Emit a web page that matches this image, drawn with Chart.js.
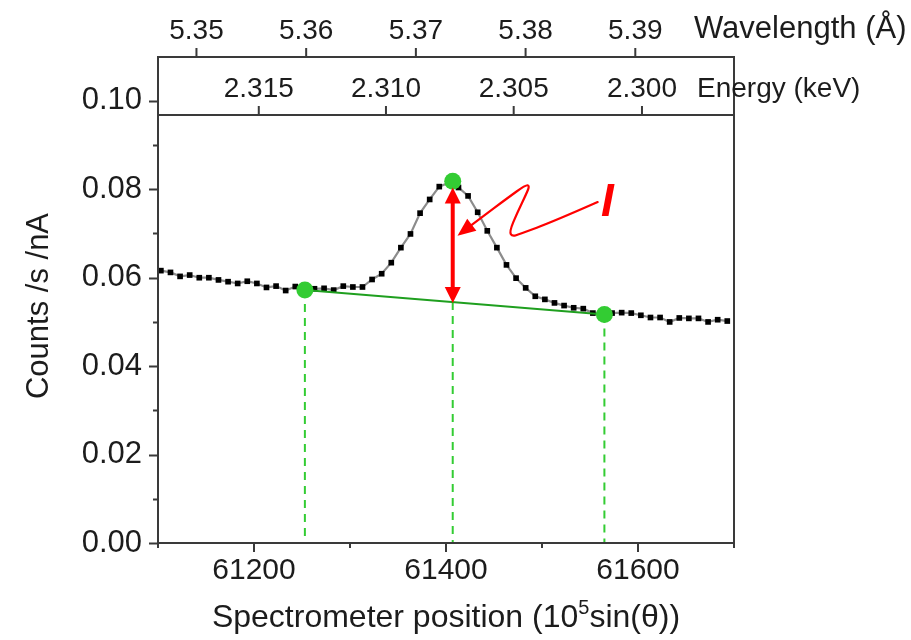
<!DOCTYPE html>
<html><head><meta charset="utf-8">
<script src="https://cdn.jsdelivr.net/npm/chart.js@4.4.1/dist/chart.umd.min.js"></script>
<style>html,body{margin:0;padding:0;background:#fff;}#wrap{width:911px;height:640px;}</style>
</head><body><div id="wrap"><canvas id="c" width="911" height="640"></canvas></div>
<script>
// ---- data ----
const positions = [61103,61113,61123,61133,61143,61153,61163,61173,61183,61193,
  61203,61213,61223,61233,61243,61253,61263,61273,61283,61293,
  61303,61313,61323,61333,61343,61353,61363,61373,61383,61393,
  61403,61413,61423,61433,61443,61453,61463,61473,61483,61493,
  61503,61513,61523,61533,61543,61553,61563,61573,61583,61593,
  61603,61613,61623,61633,61643,61653,61663,61673,61683,61693];
const counts = [0.0616,0.0612,0.0603,0.0606,0.0600,0.0600,0.0595,0.0591,0.0587,0.0592,
  0.0587,0.0578,0.0581,0.0571,0.0580,0.0573,0.0575,0.0576,0.0572,0.0581,
  0.0579,0.0579,0.0596,0.0609,0.0634,0.0668,0.0699,0.0746,0.0777,0.0806,
  0.0815,0.0804,0.0785,0.0748,0.0706,0.0668,0.0629,0.0599,0.0577,0.0558,
  0.0551,0.0543,0.0537,0.0532,0.0530,0.0520,0.0518,0.0520,0.0521,0.0520,
  0.0515,0.0510,0.0510,0.0500,0.0509,0.0508,0.0508,0.0500,0.0505,0.0502];
const markerPos = [61253, 61407, 61565];
const markerVal = [0.0572, 0.0818, 0.0517];
const baselinePos = [61253, 61565];
const baselineVal = [0.0572, 0.0517];
const dashPos = [61253, 61407, 61565];
const dashTopVal = [0.0572, 0.0545, 0.0517];
const arrowPos = 61407, arrowTopVal = 0.0804, arrowBottomVal = 0.0543;
const squigglePos = [61558, 61512, 61477, 61469, 61466, 61474, 61484, 61487, 61483, 61464, 61436, 61412];
const squiggleVal = [0.0771, 0.0727, 0.0699, 0.0693, 0.0704, 0.0746, 0.0791, 0.0808, 0.0810, 0.0780, 0.0735, 0.0695];
const labelIPos = 61568, labelIVal = 0.0769;

const xMin = 61100, xMax = 61700;
const xTicks = [61100,61200,61300,61400,61500,61600,61700];
const xLabelled = [61200,61400,61600];
const yMin = 0, yMax = 0.0968;
const yTicks = [0,0.01,0.02,0.03,0.04,0.05,0.06,0.07,0.08,0.09,0.10];
const wavelengthTicks = [5.35,5.36,5.37,5.38,5.39];
const energyTicks = [2.315,2.310,2.305,2.300];
const ANGSTROM_PER_UNIT = 8.7504e-5;   // wavelength = k * position
const HC = 12.3984;                    // keV*Angstrom

const FONT = '"Liberation Sans", Arial, Helvetica, sans-serif';
const TXT = '#1c1c1c';
const AXC = '#3a3a3a';

const framePlugin = {
  id: 'frame',
  afterDatasetsDraw(chart) {
    const {ctx, chartArea: a, scales} = chart;
    const sx = scales.x, sy = scales.y, sE = scales.xE, sW = scales.xW;
    const yW = sW.bottom;
    ctx.save();
    ctx.strokeStyle = AXC; ctx.lineWidth = 2; ctx.lineCap = 'butt';
    ctx.beginPath();
    ctx.moveTo(a.left, yW); ctx.lineTo(a.left, a.bottom);
    ctx.moveTo(a.right, yW); ctx.lineTo(a.right, a.bottom);
    ctx.moveTo(a.left - 1, a.bottom); ctx.lineTo(a.right + 1, a.bottom);
    ctx.moveTo(a.left - 1, a.top); ctx.lineTo(a.right + 1, a.top);
    ctx.moveTo(a.left - 1, yW); ctx.lineTo(a.right + 1, yW);
    yTicks.forEach((v, i) => {
      const p = Math.round(sy.getPixelForValue(v)) + 0.5;
      const len = i % 2 === 0 ? 9 : 5;
      ctx.moveTo(a.left - len, p); ctx.lineTo(a.left, p);
    });
    xTicks.forEach(v => {
      const p = sx.getPixelForValue(v);
      const len = xLabelled.includes(v) ? 9 : 5;
      ctx.moveTo(p, a.bottom); ctx.lineTo(p, a.bottom + len);
    });
    sE.ticks.forEach(t => {
      const p = sE.getPixelForValue(t.value);
      ctx.moveTo(p, a.top); ctx.lineTo(p, a.top - 9);
    });
    sW.ticks.forEach(t => {
      const p = sW.getPixelForValue(t.value);
      ctx.moveTo(p, yW); ctx.lineTo(p, yW - 9);
    });
    ctx.stroke();

    // axis titles
    ctx.fillStyle = TXT;
    ctx.font = '31px ' + FONT;
    ctx.textBaseline = 'middle';
    ctx.textAlign = 'center';
    ctx.save();
    ctx.translate(39, 306);
    ctx.rotate(-Math.PI / 2);
    ctx.fillText('Counts /s /nA', 0, 0);
    ctx.restore();

    const parts = [['Spectrometer position (10', 32, 0], ['5', 20, -13], ['sin(\u03b8))', 32, 0]];
    let total = 0;
    parts.forEach(p => { ctx.font = p[1] + 'px ' + FONT; total += ctx.measureText(p[0]).width; });
    let xx = (a.left + a.right) / 2 - total / 2;
    const base = 627;
    ctx.textAlign = 'left'; ctx.textBaseline = 'alphabetic';
    parts.forEach(p => { ctx.font = p[1] + 'px ' + FONT; ctx.fillText(p[0], xx, base + p[2]); xx += ctx.measureText(p[0]).width; });

    ctx.textBaseline = 'middle';
    ctx.font = '31px ' + FONT;
    ctx.fillText('Wavelength (\u00c5)', 694, 29);
    ctx.font = '28px ' + FONT;
    ctx.fillText('Energy (keV)', 697, 89);
    ctx.restore();
  }
};

const annotPlugin = {
  id: 'annot',
  afterDatasetsDraw(chart) {
    const {ctx, scales: {x, y}} = chart;
    ctx.save();
    ctx.fillStyle = '#ff0000'; ctx.strokeStyle = '#ff0000';
    const ax = x.getPixelForValue(arrowPos);
    const t = y.getPixelForValue(arrowTopVal), b = y.getPixelForValue(arrowBottomVal);
    const hl = 16, hw = 8;
    ctx.lineWidth = 4;
    ctx.beginPath(); ctx.moveTo(ax, t + hl - 2); ctx.lineTo(ax, b - hl + 2); ctx.stroke();
    ctx.beginPath(); ctx.moveTo(ax, t); ctx.lineTo(ax - hw, t + hl); ctx.lineTo(ax + hw, t + hl); ctx.closePath(); ctx.fill();
    ctx.beginPath(); ctx.moveTo(ax, b); ctx.lineTo(ax - hw, b - hl); ctx.lineTo(ax + hw, b - hl); ctx.closePath(); ctx.fill();

    const pts = squigglePos.map((p, i) => [x.getPixelForValue(p), y.getPixelForValue(squiggleVal[i])]);
    const tip = pts[pts.length - 1], prev = pts[pts.length - 2];
    let dx = tip[0] - prev[0], dy = tip[1] - prev[1];
    const L = Math.hypot(dx, dy); dx /= L; dy /= L;
    const ahl = 18, ahw = 7.5;
    const baseP = [tip[0] - dx * ahl, tip[1] - dy * ahl];
    ctx.lineWidth = 2.2; ctx.lineJoin = 'round'; ctx.lineCap = 'round';
    ctx.beginPath();
    ctx.moveTo(pts[0][0], pts[0][1]);
    for (let i = 1; i < pts.length - 2; i++) {
      const mx = (pts[i][0] + pts[i + 1][0]) / 2, my = (pts[i][1] + pts[i + 1][1]) / 2;
      ctx.quadraticCurveTo(pts[i][0], pts[i][1], mx, my);
    }
    ctx.lineTo(baseP[0] + dx * 3, baseP[1] + dy * 3);
    ctx.stroke();
    ctx.beginPath();
    ctx.moveTo(tip[0], tip[1]);
    ctx.lineTo(baseP[0] - dy * ahw, baseP[1] + dx * ahw);
    ctx.lineTo(baseP[0] + dy * ahw, baseP[1] - dx * ahw);
    ctx.closePath(); ctx.fill();

    ctx.font = 'italic bold 46px ' + FONT;
    ctx.textAlign = 'center'; ctx.textBaseline = 'middle';
    ctx.fillText('I', x.getPixelForValue(labelIPos), y.getPixelForValue(labelIVal));
    ctx.restore();
  }
};

const datasets = [
  { data: markerPos.map((p, i) => ({x: p, y: markerVal[i]})), showLine: false,
    pointRadius: 8.5, pointBackgroundColor: '#33cc33', pointBorderWidth: 0, order: 0 },
  { data: baselinePos.map((p, i) => ({x: p, y: baselineVal[i]})), showLine: true,
    borderColor: '#1f9f1f', borderWidth: 2, pointRadius: 0, order: 1 },
];
dashPos.forEach((p, i) => datasets.push({
  data: [{x: p, y: dashTopVal[i]}, {x: p, y: 0}], showLine: true, borderColor: '#33cc33',
  borderWidth: 2, borderDash: [8, 6], pointRadius: 0, order: 2
}));
datasets.push({
  data: positions.map((p, i) => ({x: p, y: counts[i]})), showLine: true,
  borderColor: '#8c8c8c', borderWidth: 2.2, pointStyle: 'rect', pointRadius: 4,
  pointBackgroundColor: '#000', pointBorderWidth: 0, order: 3
});

new Chart(document.getElementById('c'), {
  type: 'scatter',
  data: {datasets},
  options: {
    responsive: false, animation: false, devicePixelRatio: 1,
    layout: {padding: {left: 0, right: 177, top: 0, bottom: 0}},
    plugins: {legend: {display: false}, tooltip: {enabled: false}},
    scales: {
      x: {
        type: 'linear', position: 'bottom', min: xMin, max: xMax,
        grid: {display: false}, border: {display: false},
        afterBuildTicks: s => { s.ticks = xTicks.map(v => ({value: v})); },
        afterFit: s => { s.height = 97; },
        ticks: {autoSkip: false, maxRotation: 0, padding: 2, color: TXT, font: {family: FONT, size: 30},
          callback: v => xLabelled.includes(v) ? String(v) : ''}
      },
      xE: {
        type: 'linear', position: 'top', min: xMin, max: xMax, weight: 1,
        grid: {display: false}, border: {display: false},
        afterBuildTicks: s => { s.ticks = energyTicks.map(e => ({value: HC / e / ANGSTROM_PER_UNIT})); },
        afterFit: s => { s.height = 58; },
        ticks: {autoSkip: false, maxRotation: 0, padding: 1, color: TXT, font: {family: FONT, size: 28},
          callback: (v, i) => energyTicks[i].toFixed(3)}
      },
      xW: {
        type: 'linear', position: 'top', min: xMin, max: xMax, weight: 2,
        grid: {display: false}, border: {display: false},
        afterBuildTicks: s => { s.ticks = wavelengthTicks.map(w => ({value: w / ANGSTROM_PER_UNIT})); },
        afterFit: s => { s.height = 57; },
        ticks: {autoSkip: false, maxRotation: 0, padding: 1, color: TXT, font: {family: FONT, size: 28},
          callback: (v, i) => wavelengthTicks[i].toFixed(2)}
      },
      y: {
        type: 'linear', position: 'left', min: yMin, max: yMax,
        grid: {display: false}, border: {display: false},
        afterBuildTicks: s => { s.ticks = yTicks.map(v => ({value: v})); },
        afterFit: s => { s.width = 158; },
        ticks: {autoSkip: false, padding: 8, color: TXT, font: {family: FONT, size: 31},
          callback: (v, i) => i % 2 === 0 ? v.toFixed(2) : ''}
      }
    }
  },
  plugins: [framePlugin, annotPlugin]
});
</script>
</body></html>
